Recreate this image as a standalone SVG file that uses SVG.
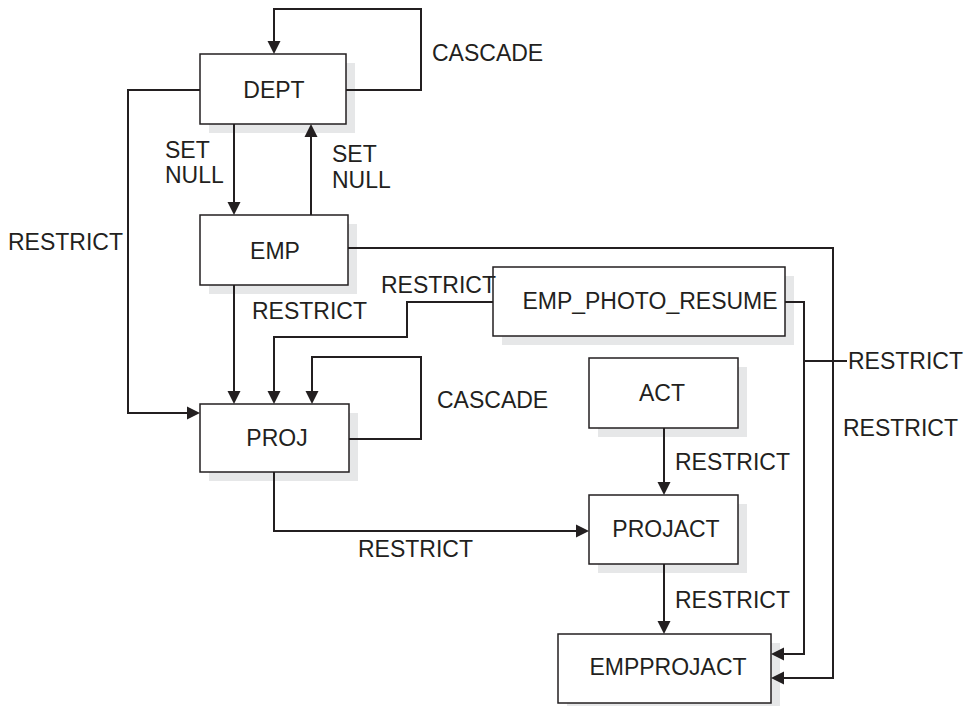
<svg xmlns="http://www.w3.org/2000/svg" width="968" height="706" viewBox="0 0 968 706">
<style>
.box{fill:#fff;stroke:#231f20;stroke-width:1.5}
.sh{fill:#e6e7e8}
.lbl{font-family:"Liberation Sans",Arial,sans-serif;font-size:23px;fill:#231f20}
.c{text-anchor:middle}
.ln{fill:none;stroke:#231f20;stroke-width:2}
.ah{fill:#231f20;stroke:none}
</style>
<defs>
<path id="arr" d="M0,0 L-6.5,-13 L6.5,-13 Z"/>
</defs>
<rect width="968" height="706" fill="#fff"/>
<g id="DEPT">
<rect class="sh" x="209" y="63" width="146" height="70"/>
<rect class="box" x="200" y="54" width="146" height="70"/>
<text class="lbl c" x="274" y="98">DEPT</text>
</g>
<g id="EMP">
<rect class="sh" x="209" y="224" width="148" height="70"/>
<rect class="box" x="200" y="215" width="148" height="70"/>
<text class="lbl c" x="275" y="259">EMP</text>
</g>
<g id="EMP_PHOTO_RESUME">
<rect class="sh" x="502" y="276" width="292" height="69"/>
<rect class="box" x="493" y="267" width="292" height="69"/>
<text class="lbl c" x="650" y="309">EMP_PHOTO_RESUME</text>
</g>
<g id="PROJ">
<rect class="sh" x="209" y="413" width="149" height="68"/>
<rect class="box" x="200" y="404" width="149" height="68"/>
<text class="lbl c" x="277" y="446">PROJ</text>
</g>
<g id="ACT">
<rect class="sh" x="598" y="367" width="149" height="70"/>
<rect class="box" x="589" y="358" width="149" height="70"/>
<text class="lbl c" x="662" y="401">ACT</text>
</g>
<g id="PROJACT">
<rect class="sh" x="598" y="504" width="149" height="69"/>
<rect class="box" x="589" y="495" width="149" height="69"/>
<text class="lbl c" x="666" y="537">PROJACT</text>
</g>
<g id="EMPPROJACT">
<rect class="sh" x="567" y="643" width="213" height="69"/>
<rect class="box" x="558" y="634" width="213" height="69"/>
<text class="lbl c" x="668" y="675">EMPPROJACT</text>
</g>
<g id="connectors">
<path class="ln" d="M346,90 H421 V9 H274 V45"/>
<path class="ln" d="M234,124 V205"/>
<path class="ln" d="M311,215 V134"/>
<path class="ln" d="M200,90 H128 V413 H190"/>
<path class="ln" d="M234,285 V394"/>
<path class="ln" d="M493,302 H407 V337 H274 V394"/>
<path class="ln" d="M349,439 H421 V357 H312 V394"/>
<path class="ln" d="M348,248 H833 V678 H780"/>
<path class="ln" d="M785,302 H804 V654 H780"/>
<path class="ln" d="M804,361 H847"/>
<path class="ln" d="M274,472 V531 H580"/>
<path class="ln" d="M664,428 V486"/>
<path class="ln" d="M664,564 V625"/>
<use href="#arr" class="ah" transform="translate(274,54)"/>
<use href="#arr" class="ah" transform="translate(234,215)"/>
<use href="#arr" class="ah" transform="translate(311,124) rotate(180)"/>
<use href="#arr" class="ah" transform="translate(200,413) rotate(-90)"/>
<use href="#arr" class="ah" transform="translate(234,404)"/>
<use href="#arr" class="ah" transform="translate(274,404)"/>
<use href="#arr" class="ah" transform="translate(312,404)"/>
<use href="#arr" class="ah" transform="translate(771,678) rotate(90)"/>
<use href="#arr" class="ah" transform="translate(771,654) rotate(90)"/>
<use href="#arr" class="ah" transform="translate(589,531) rotate(-90)"/>
<use href="#arr" class="ah" transform="translate(664,495)"/>
<use href="#arr" class="ah" transform="translate(664,634)"/>
</g>
<g id="labels">
<text class="lbl" x="432" y="61">CASCADE</text>
<text class="lbl" x="165" y="158">SET</text>
<text class="lbl" x="165" y="183">NULL</text>
<text class="lbl" x="332" y="162">SET</text>
<text class="lbl" x="332" y="188">NULL</text>
<text class="lbl" x="8" y="250">RESTRICT</text>
<text class="lbl" x="252" y="319">RESTRICT</text>
<text class="lbl" x="381" y="293">RESTRICT</text>
<text class="lbl" x="437" y="408">CASCADE</text>
<text class="lbl" x="848" y="369">RESTRICT</text>
<text class="lbl" x="843" y="436">RESTRICT</text>
<text class="lbl" x="675" y="470">RESTRICT</text>
<text class="lbl" x="358" y="557">RESTRICT</text>
<text class="lbl" x="675" y="608">RESTRICT</text>
</g>
</svg>
